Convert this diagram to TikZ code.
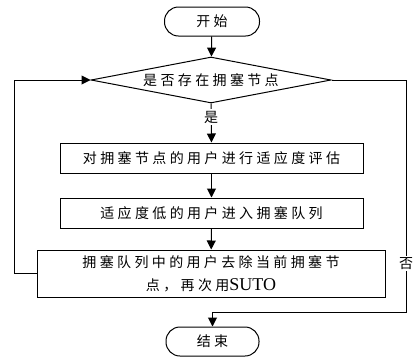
\documentclass[tikz,border=0pt]{standalone}
\usepackage{fontspec}
\setmainfont{Liberation Serif}
\newfontfamily\cjk[LetterSpace=24]{Noto Sans CJK SC}
\usetikzlibrary{shapes.geometric,arrows.meta}
\begin{document}
\begin{tikzpicture}[x=1pt,y=-1pt,
  every node/.style={font=\fontsize{14}{23}\selectfont\cjk, inner sep=0pt, align=center},
  term/.style={draw, line width=1pt, rounded corners=14pt, minimum width=95pt, minimum height=29pt},
  proc/.style={draw, line width=1pt, minimum height=30pt},
  dec/.style={draw, line width=1pt, diamond, shape aspect=5.2, minimum width=240pt, minimum height=46pt},
  lab/.style={fill=white, inner sep=1.5pt},
  conn/.style={line width=1pt, -{Triangle[length=9pt,width=9pt]}},
  plain/.style={line width=1pt}]
\useasboundingbox (0,0) rectangle (416,357);
\node[term] (start) at (212,21.5) {开始};
\node[dec] (dia) at (211,80) {是否存在拥塞节点};
\node[proc, minimum width=303pt] (b1) at (211.5,158) {对拥塞节点的用户进行适应度评估};
\node[proc, minimum width=303pt] (b2) at (211.5,213) {适应度低的用户进入拥塞队列};
\node[proc, minimum width=348pt, minimum height=47pt] (b3) at (211,273.5) {拥塞队列中的用户去除当前拥塞节\\点，再次用{\rmfamily\fontsize{18}{23}\selectfont SUTO}};
\node[term, minimum width=93pt] (end) at (212.5,341.5) {结束};
\coordinate (rt) at (406,80);
\coordinate (lt) at (14,80);
\coordinate (lb) at (14,273.5);
\coordinate (rb) at (406,312);
\coordinate (jn) at (212.5,312);
\draw[conn] (start) -- (dia);
\draw[conn] (dia.south) -- node[lab, pos=0.35] (yes) {是} (b1.north);
\draw[conn] (b1) -- (b2);
\draw[conn] (b2) -- (b3);
\draw[conn] (b3.west) -- (lb) -- (lt) -- (dia.west);
\draw[plain] (dia.east) -- (rt) -- node[lab, pos=0.79] (no) {否} (rb) -- (jn);
\draw[conn] (jn) -- (end.north);
\end{tikzpicture}
\end{document}
